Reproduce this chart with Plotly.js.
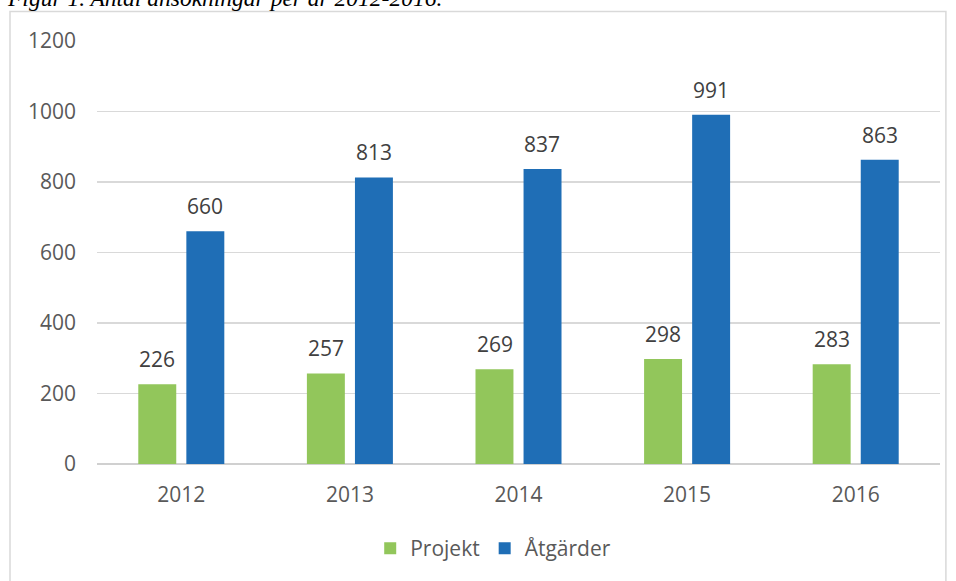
<!DOCTYPE html>
<html><head><meta charset="utf-8">
<script src="https://cdn.plot.ly/plotly-3.0.1.min.js"></script>
<style>html,body{margin:0;padding:0;background:#fff}#chart{width:956px;height:581px}</style>
</head><body><div id="chart"></div>
<script>
var years = ['2012','2013','2014','2015','2016'];
var projekt = [226, 257, 269, 298, 283];
var atgarder = [660, 813, 837, 991, 863];
var seriesNames = ['Projekt','Åtgärder'];
var titleText = 'Figur 1. Antal ansökningar per år 2012-2016.';

var green = '#92c65b', blue = '#1f6eb6';
var font = 'Open Sans, sans-serif';
var fs = 21;
var off = 0.142;

var ann = [];
years.forEach(function(y, i){
  ann.push({x: i - off, y: projekt[i], xref:'x', yref:'y', text: String(projekt[i]), showarrow:false, yanchor:'middle', yshift:25, font:{family:font, size:fs, color:'#404040'}});
  ann.push({x: i + off, y: atgarder[i], xref:'x', yref:'y', text: String(atgarder[i]), showarrow:false, yanchor:'middle', yshift:25, font:{family:font, size:fs, color:'#404040'}});
});
ann.push({xref:'paper', yref:'paper', x:-0.1091, y:1.1008, xanchor:'left', yanchor:'middle', text:'<i>'+titleText+'</i>', showarrow:false, font:{family:'Liberation Serif, serif', size:23.5, color:'#000'}});

var data = [
  {type:'bar', name: seriesNames[0], x: years, y: projekt, marker:{color:green}},
  {type:'bar', name: seriesNames[1], x: years, y: atgarder, marker:{color:blue}}
];
var layout = {
  width:956, height:581,
  margin:{l:97, r:16, t:40.7, b:116.7},
  paper_bgcolor:'#fff', plot_bgcolor:'#fff',
  barmode:'group', bargap:0.43, bargroupgap:0.21,
  font:{family:font, size:fs, color:'#595959'},
  xaxis:{type:'category', showgrid:false, showline:false, zeroline:false, ticks:'', ticklabelstandoff:16, tickfont:{family:font, size:fs, color:'#595959'}},
  yaxis:{range:[0,1200], dtick:200, showgrid:true, gridcolor:'#d9d9d9', gridwidth:1.5, zeroline:true, zerolinecolor:'#d0d0d0', zerolinewidth:2, showline:false, ticks:'', ticklabelstandoff:20, tickfont:{family:font, size:fs, color:'#595959'}},
  showlegend:true,
  legend:{orientation:'h', x:0.47, xanchor:'center', y:-0.2, yanchor:'middle', font:{family:font, size:fs, color:'#595959'}, itemwidth:30, tracegroupgap:0},
  annotations: ann,
  shapes:[{type:'rect', xref:'paper', yref:'paper', x0:-0.1032, x1:1.007, y0:-0.4, y1:1.070, line:{color:'#d9d9d9', width:1.5}, fillcolor:'rgba(0,0,0,0)', layer:'below'}]
};
Plotly.newPlot('chart', data, layout, {displayModeBar:false, staticPlot:true});
</script></body></html>
